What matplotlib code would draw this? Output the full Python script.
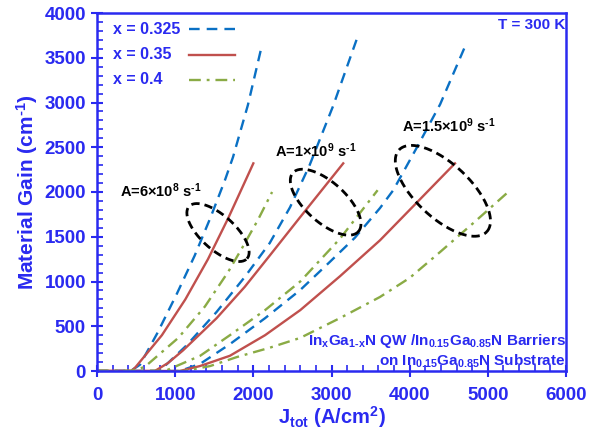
import numpy as np
import matplotlib
matplotlib.use("Agg")
import matplotlib.pyplot as plt

plt.rcParams["font.family"] = ["Liberation Sans", "DejaVu Sans"]
plt.rcParams["font.weight"] = "bold"
plt.rcParams["mathtext.fontset"] = "custom"
plt.rcParams["mathtext.rm"] = "Liberation Sans:bold"
plt.rcParams["mathtext.it"] = "Liberation Sans:bold"
plt.rcParams["mathtext.bf"] = "Liberation Sans:bold"

# x = 0.325 (blue dashed), x = 0.35 (red solid), x = 0.4 (green dash-dot)
# group A = 6e8 s^-1
j_b1 = [0, 430, 550, 770, 1020, 1250, 1450, 1640, 1740, 1930, 2110]
g_b1 = [0, 0, 70, 420, 860, 1290, 1710, 2140, 2390, 2970, 3640]
j_r1 = [0, 440, 490, 830, 1130, 1420, 1680, 1890, 2000]
g_r1 = [0, 0, 40, 400, 800, 1250, 1710, 2110, 2320]
j_g1 = [0, 440, 610, 1040, 1380, 1680, 1860, 2060, 2240]
g_g1 = [0, 0, 45, 370, 720, 1110, 1380, 1690, 2000]
# group A = 1e9 s^-1
j_b2 = [0, 800, 1150, 1530, 1890, 2210, 2470, 2720, 3020, 3320]
g_b2 = [0, 0, 290, 660, 1050, 1430, 1830, 2300, 2960, 3700]
j_r2 = [0, 740, 910, 1100, 1530, 1890, 2210, 2600, 3150]
g_r2 = [0, 0, 90, 230, 590, 940, 1290, 1720, 2320]
j_g2 = [0, 870, 1320, 1700, 2150, 2600, 3110, 3590]
g_g2 = [0, 0, 170, 400, 680, 1000, 1480, 2020]
# group A = 1.5e9 s^-1
j_b3 = [0, 1060, 1320, 1700, 2150, 2600, 2980, 3300, 3620, 3790, 4100, 4390, 4730]
g_b3 = [0, 0, 80, 300, 590, 905, 1220, 1490, 1820, 2020, 2510, 2980, 3670]
j_r3 = [0, 1060, 1320, 1700, 2150, 2600, 3110, 3620, 4000, 4580]
g_r3 = [0, 0, 56, 170, 400, 680, 1060, 1460, 1800, 2320]
j_g3 = [0, 1120, 1450, 1790, 2210, 2600, 3110, 3620, 4000, 4390, 4830, 5260]
g_g3 = [0, 0, 56, 156, 260, 370, 592, 827, 1040, 1330, 1665, 2000]

HY = "\u2010"  # short hyphen used in the original labels
legend_labels = ["x = 0.325", "x = 0.35", "x = 0.4"]
legend_rows_y = [0.955, 0.883, 0.813]
group_labels = [r"A=6$\times$10$^{8}$ s$^{" + HY + "1}$",
                r"A=1$\times$10$^{9}$ s$^{" + HY + "1}$",
                r"A=1.5$\times$10$^{9}$ s$^{" + HY + "1}$"]
group_label_pos = [(300, 2010), (2280, 2460), (3900, 2740)]
# ellipse centres (data) and semi-axes in pixels, angle in degrees
ellipse_centers = [(1548, 1547), (2925, 1886), (4425, 2013)]
ellipse_axes = [(39, 17), (44, 20), (60, 27)]
ellipse_angles = [-42, -42, -43]

BLUE_TXT = "#2a2af0"
C_BLUE = "#0a70c4"
C_RED = "#c0504d"
C_GREEN = "#8aab45"

fig = plt.figure(figsize=(5.92, 4.32), dpi=100)
ax = fig.add_axes([97 / 592, 61 / 432, 469 / 592, 358 / 432])
ax.set_xlim(0, 6000)
ax.set_ylim(0, 4000)

dash_b = dict(color=C_BLUE, lw=1.7, ls=(0, (4.5, 3)))
solid_r = dict(color=C_RED, lw=1.7, ls="-")
dd_g = dict(color=C_GREEN, lw=1.7, ls=(0, (5, 2.5, 1.2, 2.5)))

for j, g in [(j_b1, g_b1), (j_b2, g_b2), (j_b3, g_b3)]:
    ax.plot(j, g, **dash_b)
for j, g in [(j_r1, g_r1), (j_r2, g_r2), (j_r3, g_r3)]:
    ax.plot(j, g, **solid_r)
for j, g in [(j_g1, g_g1), (j_g2, g_g2), (j_g3, g_g3)]:
    ax.plot(j, g, **dd_g)

# dashed ellipses drawn in pixel space so they keep their shape
t = np.linspace(0, 2 * np.pi, 200)
for (cx, cy), (a, b), ang in zip(ellipse_centers, ellipse_axes, ellipse_angles):
    c = ax.transData.transform((cx, cy))
    th = np.deg2rad(ang)
    xs = c[0] + a * np.cos(t) * np.cos(th) - b * np.sin(t) * np.sin(th)
    ys = c[1] + a * np.cos(t) * np.sin(th) + b * np.sin(t) * np.cos(th)
    pts = ax.transData.inverted().transform(np.column_stack([xs, ys]))
    ax.plot(pts[:, 0], pts[:, 1], color="black", lw=2.0, ls=(0, (3, 1.8)))

for lbl, (x, y) in zip(group_labels, group_label_pos):
    ax.text(x, y, lbl, fontsize=10.5, color="black", va="center", ha="left")

# legend: text first, line sample after it
for lbl, y, style in zip(legend_labels, legend_rows_y, [dash_b, solid_r, dd_g]):
    ax.text(0.034, y, lbl, transform=ax.transAxes, ha="left", va="center",
            fontsize=11.5, color=BLUE_TXT)
    ax.plot([0.197, 0.295], [y, y], transform=ax.transAxes, **style)

ax.text(0.998, 0.985, "T = 300 K", transform=ax.transAxes, ha="right", va="top",
        fontsize=11, color=BLUE_TXT)
ax.text(0.999, 0.083,
        r"In$_{\mathrm{x}}$Ga$_{\mathrm{1" + HY + "x}}$N QW /In$_{0.15}$Ga$_{0.85}$N Barriers",
        transform=ax.transAxes, ha="right", va="center", fontsize=11, color=BLUE_TXT)
ax.text(0.999, 0.028, r"on In$_{0.15}$Ga$_{0.85}$N Substrate",
        transform=ax.transAxes, ha="right", va="center", fontsize=11, color=BLUE_TXT)

for s in ax.spines.values():
    s.set_color(BLUE_TXT)
    s.set_linewidth(1.8)
ax.set_xticks(np.arange(0, 6001, 1000))
ax.set_yticks(np.arange(0, 4001, 500))
ax.set_xticks(np.arange(0, 6001, 200), minor=True)
ax.set_yticks(np.arange(0, 4001, 100), minor=True)
ax.tick_params(which="major", direction="inout", length=9, width=1.5, color=BLUE_TXT,
               labelcolor=BLUE_TXT, labelsize=13.5, top=False, right=False)
ax.tick_params(axis="x", which="major", pad=7)
ax.tick_params(which="minor", direction="in", length=4.5, width=1.2, color=BLUE_TXT,
               top=False, right=False)
plt.setp(ax.get_xticklabels() + ax.get_yticklabels(), fontweight="bold")
ax.set_xlabel(r"J$_{\mathrm{tot}}$ (A/cm$^{2}$)", fontsize=14.5, color=BLUE_TXT,
              fontweight="bold", labelpad=0)
ax.set_ylabel(r"Material Gain (cm$^{" + HY + "1}$)", fontsize=15, color=BLUE_TXT,
              fontweight="bold", labelpad=3)

fig.savefig("out.png", dpi=100)
